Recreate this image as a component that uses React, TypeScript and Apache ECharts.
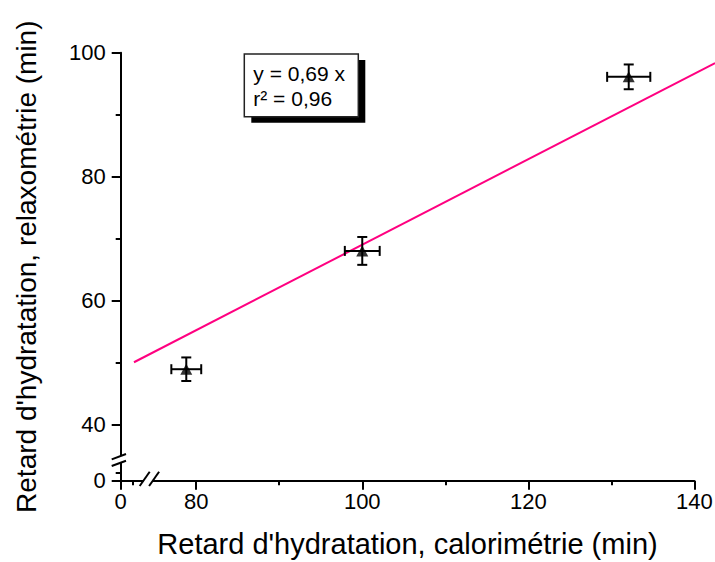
import React, { useEffect, useRef } from "react";
import * as echarts from "echarts";

// ---- data ----
const pointsX = [78.8, 100.0, 132.1];
const pointsY = [48.9, 68.0, 96.1];
const errX = [1.8, 2.1, 2.6];
const errY = [1.9, 2.25, 2.0];

const fitSlope = 0.69;
const fitXRange = [72.5, 142.5];

const xMajorTicks = [80, 100, 120, 140];
const xMinorTicks = [72.4, 90, 110, 130];
const yMajorTicks = [40, 60, 80, 100];
const yMinorTicks = [32.2, 50, 70, 90];
// broken axes: the axis start is labelled "0"
const xAxisMin = 70.9;
const xAxisMax = 140;
const yAxisMin = 30.9;
const yAxisMax = 100;
const xBreakValue = 74.2;
const yBreakValue = 34.35;
const zeroLabel = "0";

const annotationLines = ["y = 0,69 x", "r² = 0,96"];
const xTitle = "Retard d'hydratation, calorimétrie (min)";
const yTitle = "Retard d'hydratation, relaxométrie (min)";

const FONT = "'Liberation Sans', Arial, Helvetica, sans-serif";
const LINE_COLOR = "#ff0080";

export default function App() {
  const ref = useRef<HTMLDivElement>(null);

  useEffect(() => {
    if (!ref.current) return;
    const chart = echarts.init(ref.current, null, { renderer: "svg" });

    const points = pointsX.map((x, i) => [x, pointsY[i]]);
    const errData = pointsX.map((x, i) => [x, pointsY[i], errX[i], errY[i]]);
    const fitData = [[fitXRange[0], fitSlope * fitXRange[0], fitXRange[1], fitSlope * fitXRange[1]]];

    const labelFmt = (min: number) => (v: number) =>
      Math.abs(v - min) < 1e-6 ? zeroLabel : String(v);

    const baseX = {
      type: "value",
      min: xAxisMin,
      max: xAxisMax,
      position: "bottom",
      splitLine: { show: false },
    };
    const baseY = {
      type: "value",
      min: yAxisMin,
      max: yAxisMax,
      position: "left",
      splitLine: { show: false },
    };

    chart.setOption({
      animation: false,
      backgroundColor: "#ffffff",
      grid: {
        left: 120.7,
        right: 20.7,
        top: 52.7,
        bottom: 81.3,
        containLabel: false,
        outerBoundsMode: "none",
      },
      xAxis: [
        {
          ...baseX,
          name: xTitle,
          nameLocation: "middle",
          nameGap: 49,
          nameMoveOverlap: false,
          nameTextStyle: { fontFamily: FONT, fontSize: 29, color: "#000" },
          axisLine: { show: true, lineStyle: { color: "#000", width: 2 } },
          axisTick: {
            show: true,
            inside: false,
            length: 9,
            lineStyle: { color: "#000", width: 2 },
            customValues: [xAxisMin, ...xMajorTicks],
          },
          axisLabel: {
            show: true,
            margin: 10,
            fontFamily: FONT,
            fontSize: 22,
            color: "#000",
            customValues: [xAxisMin, ...xMajorTicks],
            formatter: labelFmt(xAxisMin),
          },
        },
        {
          ...baseX,
          axisLine: { show: false },
          axisTick: {
            show: true,
            inside: false,
            length: 4.5,
            lineStyle: { color: "#000", width: 2 },
            customValues: xMinorTicks,
          },
          axisLabel: { show: false },
        },
      ],
      yAxis: [
        {
          ...baseY,
          name: yTitle,
          nameLocation: "middle",
          nameGap: 80,
          nameRotate: 90,
          nameMoveOverlap: false,
          nameTextStyle: { fontFamily: FONT, fontSize: 28, color: "#000" },
          axisLine: { show: true, lineStyle: { color: "#000", width: 2 } },
          axisTick: {
            show: true,
            inside: false,
            length: 9,
            lineStyle: { color: "#000", width: 2 },
            customValues: [yAxisMin, ...yMajorTicks],
          },
          axisLabel: {
            show: true,
            margin: 15,
            fontFamily: FONT,
            fontSize: 22,
            color: "#000",
            customValues: [yAxisMin, ...yMajorTicks],
            formatter: labelFmt(yAxisMin),
          },
        },
        {
          ...baseY,
          axisLine: { show: false },
          axisTick: {
            show: true,
            inside: false,
            length: 5,
            lineStyle: { color: "#000", width: 2 },
            customValues: yMinorTicks,
          },
          axisLabel: { show: false },
        },
      ],
      series: [
        {
          type: "custom",
          xAxisIndex: 0,
          yAxisIndex: 0,
          data: fitData,
          clip: false,
          z: 2,
          renderItem: (_params: any, api: any) => {
            const p1 = api.coord([api.value(0), api.value(1)]);
            const p2 = api.coord([api.value(2), api.value(3)]);
            return {
              type: "line",
              shape: { x1: p1[0], y1: p1[1], x2: p2[0], y2: p2[1] },
              style: { stroke: LINE_COLOR, lineWidth: 2, fill: "none" },
            };
          },
        },
        {
          type: "custom",
          xAxisIndex: 0,
          yAxisIndex: 0,
          data: errData,
          clip: false,
          z: 3,
          renderItem: (_params: any, api: any) => {
            const x = api.value(0);
            const y = api.value(1);
            const ex = api.value(2);
            const ey = api.value(3);
            const l = api.coord([x - ex, y]);
            const r = api.coord([x + ex, y]);
            const t = api.coord([x, y + ey]);
            const b = api.coord([x, y - ey]);
            const cap = 5;
            const style = { stroke: "#000", lineWidth: 2, fill: "none" };
            const ln = (x1: number, y1: number, x2: number, y2: number) => ({
              type: "line",
              shape: { x1, y1, x2, y2 },
              style,
            });
            return {
              type: "group",
              children: [
                ln(l[0], l[1], r[0], r[1]),
                ln(l[0], l[1] - cap, l[0], l[1] + cap),
                ln(r[0], r[1] - cap, r[0], r[1] + cap),
                ln(t[0], t[1], b[0], b[1]),
                ln(t[0] - cap, t[1], t[0] + cap, t[1]),
                ln(b[0] - cap, b[1], b[0] + cap, b[1]),
              ],
            };
          },
        },
        {
          type: "scatter",
          xAxisIndex: 0,
          yAxisIndex: 0,
          data: points,
          symbol: "triangle",
          symbolSize: [12, 11],
          itemStyle: { color: "#000" },
          z: 4,
        },
      ],
    });

    // axis breaks and the annotation box
    const xb = chart.convertToPixel({ gridIndex: 0 } as any, [xBreakValue, yAxisMin]) as number[];
    const yb = chart.convertToPixel({ gridIndex: 0 } as any, [xAxisMin, yBreakValue]) as number[];
    const slash = { stroke: "#000", lineWidth: 2 };
    const cx = xb[0];
    const ay = xb[1];
    const ax = yb[0];
    const cy = yb[1];

    const boxX = 244.3;
    const boxY = 54;
    const boxW = 114;
    const boxH = 62.7;

    chart.setOption({
      graphic: [
        // x-axis break
        { type: "rect", shape: { x: cx - 4.5, y: ay - 3, width: 9, height: 6 }, style: { fill: "#fff" }, z: 50 },
        { type: "line", shape: { x1: cx - 8.4, y1: ay + 5.3, x2: cx + 1.6, y2: ay - 9 }, style: slash, z: 51 },
        { type: "line", shape: { x1: cx + 1, y1: ay + 5.3, x2: cx + 11, y2: ay - 9 }, style: slash, z: 51 },
        // y-axis break
        { type: "rect", shape: { x: ax - 3, y: cy - 3.3, width: 6, height: 6.6 }, style: { fill: "#fff" }, z: 50 },
        { type: "line", shape: { x1: ax - 9, y1: cy, x2: ax + 5.3, y2: cy - 5.3 }, style: slash, z: 51 },
        { type: "line", shape: { x1: ax - 9, y1: cy + 6.7, x2: ax + 5.3, y2: cy + 1.4 }, style: slash, z: 51 },
        // annotation
        { type: "rect", shape: { x: boxX + 7, y: boxY + 6, width: boxW, height: boxH }, style: { fill: "#000" }, z: 60 },
        {
          type: "rect",
          shape: { x: boxX, y: boxY, width: boxW, height: boxH },
          style: { fill: "#fff", stroke: "#222", lineWidth: 1.5 },
          z: 61,
        },
        ...annotationLines.map((txt, i) => ({
          type: "text",
          x: boxX + 9,
          y: boxY + 19 + i * 25,
          z: 62,
          style: {
            text: txt,
            fontFamily: FONT,
            fontSize: 21,
            fill: "#000",
            textVerticalAlign: "middle",
            verticalAlign: "middle",
          },
        })),
      ],
    });

    return () => chart.dispose();
  }, []);

  return (
    <div
      ref={ref}
      style={{ position: "absolute", left: 0, top: 0, width: 715, height: 562 }}
    />
  );
}
